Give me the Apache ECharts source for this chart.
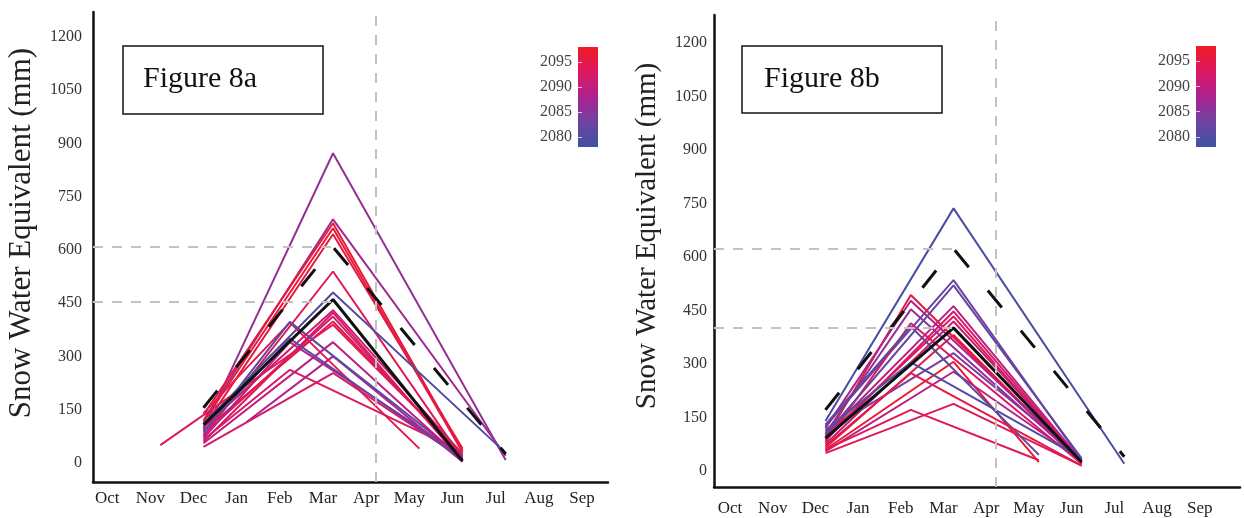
<!DOCTYPE html>
<html>
<head>
<meta charset="utf-8">
<script src="https://cdn.jsdelivr.net/npm/echarts@6/dist/echarts.min.js"></script>
<style>
  html, body { margin: 0; padding: 0; background: #fff; }
  #main { width: 1244px; height: 518px; }
</style>
</head>
<body>
<div id="main"></div>
<script>
// months on the x axis, Oct = 0
const months = ['Oct', 'Nov', 'Dec', 'Jan', 'Feb', 'Mar', 'Apr', 'May', 'Jun', 'Jul', 'Aug', 'Sep'];
const yTicks = [0, 150, 300, 450, 600, 750, 900, 1050, 1200];
const yearTicks = [2080, 2085, 2090, 2095];
const yearMin = 2078, yearMax = 2098;

// Figure 8a : each line = start -> peak -> end
const yearsA     = [2086, 2087, 2096, 2097, 2095, 2094, 2080, 2093, 2091, 2096, 2094, 2088, 2092, 2095, 2081, 2093, 2090, 2089, 2092, 2082];
const startMonA  = [2, 2, 2, 2, 2, 2, 2, 2, 2, 2, 1, 3, 2, 2, 2, 2, 2, 2, 2, 2];
const startValA  = [95, 120, 135, 115, 100, 75, 110, 60, 80, 90, 50, 115, 45, 140, 85, 65, 55, 70, 100, 90];
const peakMonA   = [5, 5, 5, 5, 5, 5, 5, 5, 5, 5, 5, 5, 5, 4, 4, 4, 5, 4, 5, 4];
const peakValA   = [872, 686, 675, 661, 644, 539, 480, 423, 412, 398, 389, 300, 253, 395, 397, 262, 340, 340, 430, 350];
const endMonA    = [9, 9, 8, 8, 8, 8, 9, 8, 8, 8, 8, 8, 8, 7, 8, 8, 8, 8, 8, 8];
const endValA    = [8, 20, 35, 30, 40, 12, 28, 5, 10, 18, 22, 3, 12, 40, 15, 30, 8, 20, 25, 10];
const dashedA    = [[2, 155], [5, 608], [9, 25]];   // black dashed
const solidA     = [[2, 107], [5, 460], [8, 5]];    // black solid
const refA       = [608, 453];

// Figure 8b
const yearsB     = [2079, 2083, 2090, 2092, 2094, 2091, 2095, 2084, 2097, 2089, 2094, 2096, 2088, 2086, 2093, 2081, 2080, 2095, 2094, 2082];
const startMonB  = [2, 2, 2, 2, 2, 2, 2, 2, 2, 2, 2, 2, 2, 2, 2, 2, 2, 2, 2, 2];
const startValB  = [140, 125, 100, 85, 95, 75, 65, 110, 60, 55, 50, 90, 120, 105, 80, 130, 115, 70, 60, 100];
const peakMonB   = [5, 5, 5, 5, 5, 5, 5, 5, 5, 5, 5, 4, 4, 4, 4, 4, 4, 4, 4, 5];
const peakValB   = [736, 535, 462, 447, 433, 419, 381, 330, 306, 278, 188, 493, 477, 453, 414, 405, 304, 274, 171, 520];
const endMonB    = [9, 8, 8, 8, 8, 8, 8, 8, 7, 8, 8, 8, 8, 8, 8, 7, 8, 8, 7, 8];
const endValB    = [20, 30, 28, 25, 22, 30, 20, 35, 25, 30, 15, 20, 30, 25, 20, 45, 35, 15, 30, 35];
const dashedB    = [[2, 171], [5, 623], [9, 40]];
const solidB     = [[2, 92], [5, 401], [8, 25]];
const refB       = [623, 401];

const palette = ['#3f52a2', '#6e43a0', '#ad2290', '#dc1862', '#ee1c24'];
function yearColor(y) {
  let t = (y - yearMin) / (yearMax - yearMin);
  t = Math.max(0, Math.min(1, t));
  return echarts.color.lerp(t, palette);
}

const serif = '"Liberation Serif", "DejaVu Serif", serif';

function panelSeries(idx, years, sM, sV, pM, pV, eM, eV, dashed, solid, ref, xMin) {
  const out = years.map((yr, i) => ({
    type: 'line',
    xAxisIndex: idx, yAxisIndex: idx,
    data: [[sM[i], sV[i]], [pM[i], pV[i]], [eM[i], eV[i]]],
    symbol: 'none',
    silent: true,
    lineStyle: { color: yearColor(yr), width: 2 },
    z: 3
  }));
  out.push({
    type: 'line',
    xAxisIndex: idx, yAxisIndex: idx,
    data: dashed,
    symbol: 'none', silent: true,
    lineStyle: { color: '#111', width: 3, type: [22, 30] },
    z: 4
  });
  out.push({
    type: 'line',
    xAxisIndex: idx, yAxisIndex: idx,
    data: solid,
    symbol: 'none', silent: true,
    lineStyle: { color: '#111', width: 3 },
    z: 4,
    markLine: {
      silent: true,
      symbol: 'none',
      label: { show: false },
      lineStyle: { color: '#c2c2c2', width: 2, type: [10, 9] },
      data: [
        [{ coord: [xMin, ref[0]] }, { coord: [5, ref[0]] }],
        [{ coord: [xMin, ref[1]] }, { coord: [5, ref[1]] }],
        { xAxis: 6 }
      ]
    }
  });
  return out;
}

function xAxisCfg(idx, min, max, margin) {
  return {
    type: 'value', gridIndex: idx, min: min, max: max,
    splitLine: { show: false },
    axisTick: { show: false },
    axisLine: { onZero: false, lineStyle: { color: '#111', width: 2.5 } },
    axisLabel: {
      customValues: months.map((m, i) => i),
      formatter: v => months[v],
      fontFamily: serif, fontSize: 17, color: '#222',
      margin: margin, padding: [0, 20, 0, 0]
    }
  };
}
function yAxisCfg(idx, min, max, margin) {
  return {
    type: 'value', gridIndex: idx, min: min, max: max,
    splitLine: { show: false },
    axisTick: { show: false },
    axisLine: { show: true, onZero: false, lineStyle: { color: '#111', width: 2.5 } },
    axisLabel: {
      customValues: yTicks,
      formatter: v => String(v),
      fontFamily: serif, fontSize: 16, color: '#333', margin: margin
    }
  };
}
function barAxes(idx) {
  return {
    x: { type: 'value', gridIndex: idx, show: false, min: 0, max: 1 },
    y: {
      type: 'value', gridIndex: idx, min: yearMin, max: yearMax,
      splitLine: { show: false },
      axisLine: { show: false, onZero: false },
      axisTick: { show: true, inside: true, length: 4, customValues: yearTicks,
                  lineStyle: { color: 'rgba(255,255,255,0.7)', width: 1 } },
      axisLabel: { customValues: yearTicks, formatter: v => String(v),
                   fontFamily: serif, fontSize: 16, color: '#444', margin: 6 }
    }
  };
}

const xMinA = -0.56, xMaxA = 11.37;
const xMinB = -0.61, xMaxB = 11.71;

const barA = barAxes(2), barB = barAxes(3);
const gradStops = palette.slice().reverse().map((c, i) => ({ offset: i / (palette.length - 1), color: c }));

const chart = echarts.init(document.getElementById('main'));
chart.setOption({
  animation: false,
  grid: [
    { left: 93, top: 12, width: 515, height: 470 },
    { left: 714, top: 15, width: 526, height: 472 },
    { left: 578, top: 47, width: 20, height: 100 },
    { left: 1196, top: 46, width: 20, height: 101 }
  ],
  xAxis: [xAxisCfg(0, xMinA, xMaxA, 8), xAxisCfg(1, xMinB, xMaxB, 13), barA.x, barB.x],
  yAxis: [yAxisCfg(0, -54, 1270, 11), yAxisCfg(1, -45, 1278, 7), barA.y, barB.y],
  series: []
    .concat(panelSeries(0, yearsA, startMonA, startValA, peakMonA, peakValA, endMonA, endValA, dashedA, solidA, refA, xMinA))
    .concat(panelSeries(1, yearsB, startMonB, startValB, peakMonB, peakValB, endMonB, endValB, dashedB, solidB, refB, xMinB)),
  graphic: [
    { type: 'text', x: 22, y: 233, rotation: Math.PI / 2,
      style: { text: 'Snow Water Equivalent (mm)', font: '31px ' + serif, fill: '#222', align: 'center', verticalAlign: 'middle' } },
    { type: 'text', x: 647, y: 236, rotation: Math.PI / 2,
      style: { text: 'Snow Water Equivalent (mm)', font: '29px ' + serif, fill: '#222', align: 'center', verticalAlign: 'middle' } },
    { type: 'rect', shape: { x: 123, y: 46, width: 200, height: 68 },
      style: { fill: '#fff', stroke: '#111', lineWidth: 1.5 } },
    { type: 'text', x: 143, y: 79, style: { text: 'Figure 8a', font: '30px ' + serif, fill: '#111', verticalAlign: 'middle' } },
    { type: 'rect', shape: { x: 742, y: 46, width: 200, height: 67 },
      style: { fill: '#fff', stroke: '#111', lineWidth: 1.5 } },
    { type: 'text', x: 764, y: 79, style: { text: 'Figure 8b', font: '30px ' + serif, fill: '#111', verticalAlign: 'middle' } },
    { type: 'rect', z: -1, shape: { x: 578, y: 47, width: 20, height: 100 },
      style: { fill: new echarts.graphic.LinearGradient(0, 0, 0, 1, gradStops) } },
    { type: 'rect', z: -1, shape: { x: 1196, y: 46, width: 20, height: 101 },
      style: { fill: new echarts.graphic.LinearGradient(0, 0, 0, 1, gradStops) } }
  ]
});
</script>
</body>
</html>
